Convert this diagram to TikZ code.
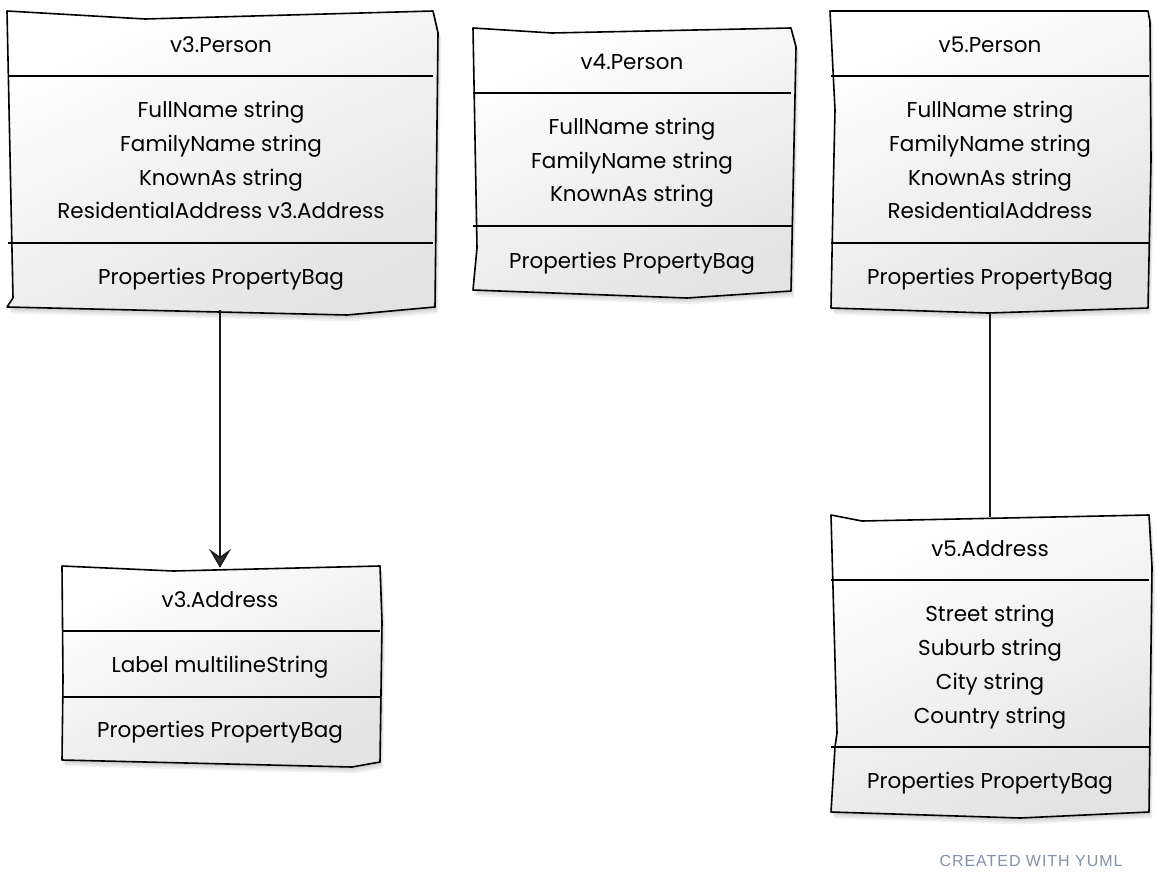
\documentclass[tikz,border=0pt]{standalone}
\usepackage{fontspec}
\setmainfont{Poppins}
\newfontfamily\credfont[LetterSpace=6]{Liberation Sans}
\usetikzlibrary{arrows.meta}
\definecolor{credc}{HTML}{8291A8}
\begin{document}
\begin{tikzpicture}[x=1pt,y=-1pt,
  outline/.style={draw=black,line width=1.6pt,line join=round,top color=white,bottom color=black!11,shading angle=25},
  shadowpath/.style={fill=black,opacity=0.05},
  sepline/.style={draw=black,line width=1.5pt},
  txt/.style={font=\fontsize{21.5}{21.5}\selectfont,anchor=mid,inner sep=0pt},
  area/.style={draw=none,inner sep=0pt,rectangle},
  conn/.style={line width=1.5pt,draw=black!90}
]
\useasboundingbox (0,0) rectangle (1157,891);
\def\boxA{(7,11) -- (145,19) -- (433,11) -- (438,33) -- (435,307) -- (347,315) -- (7,307) -- (13,298) -- cycle}
\def\boxB{(473,28) -- (552,33) -- (791,28) -- (796,47) -- (791,291) -- (687,298) -- (473,290) -- (477,248) -- cycle}
\def\boxC{(830,11) -- (1148,11) -- (1150,22) -- (1151,160) -- (1148,308) -- (988,313) -- (831,308) -- (833,200) -- (835,110) -- cycle}
\def\boxD{(62,566) -- (173,571) -- (380,566) -- (382,622) -- (380,762) -- (352,767) -- (62,760) -- (63,680) -- cycle}
\def\boxE{(831,515) -- (862,521) -- (1149,515) -- (1152,567) -- (1149,812) -- (1020,818) -- (831,812) -- (835,747) -- (837,733) -- cycle}
% shadows
\foreach \s in {1,2,3,4}{
  \fill[shadowpath,shift={(\s*0.8,\s*1.6)}] \boxA;
  \fill[shadowpath,shift={(\s*0.8,\s*1.6)}] \boxB;
  \fill[shadowpath,shift={(\s*0.8,\s*1.6)}] \boxC;
  \fill[shadowpath,shift={(\s*0.8,\s*1.6)}] \boxD;
  \fill[shadowpath,shift={(\s*0.8,\s*1.6)}] \boxE;
}
% outlines
\path[outline] \boxA;
\path[outline] \boxB;
\path[outline] \boxC;
\path[outline] \boxD;
\path[outline] \boxE;
% areas (for connectors)
\node[area,minimum width=420pt,minimum height=299pt] (v3p) at (220,160.5) {};
\node[area,minimum width=318pt,minimum height=265pt] (v4p) at (633,160.5) {};
\node[area,minimum width=318pt,minimum height=302pt] (v5p) at (990,162) {};
\node[area,minimum width=318pt,minimum height=196pt] (v3a) at (220,666) {};
\node[area,minimum width=318pt,minimum height=295pt] (v5a) at (990,664.5) {};
% separators
\draw[sepline] (8,76) -- (433,76);
\draw[sepline] (8,243) -- (433,243);
\draw[sepline] (473,93) -- (791,93);
\draw[sepline] (473,226) -- (793,226);
\draw[sepline] (831,76) -- (1149,76);
\draw[sepline] (831,243) -- (1149,243);
\draw[sepline] (62,631) -- (380,631);
\draw[sepline] (62,697) -- (380,697);
\draw[sepline] (831,580) -- (1149,580);
\draw[sepline] (831,747) -- (1149,747);
% texts v3.Person
\node[txt] (a0) at (221,50) {v3.Person};
\node[txt] (a1) at (221,115) {FullName string};
\node[txt] (a2) at (221,149) {FamilyName string};
\node[txt] (a3) at (221,183) {KnownAs string};
\node[txt] (a4) at (221,216) {ResidentialAddress v3.Address};
\node[txt] (a5) at (221,282) {Properties PropertyBag};
% v4.Person
\node[txt] (b0) at (632,67) {v4.Person};
\node[txt] (b1) at (632,132) {FullName string};
\node[txt] (b2) at (632,166) {FamilyName string};
\node[txt] (b3) at (632,199) {KnownAs string};
\node[txt] (b5) at (632,266) {Properties PropertyBag};
% v5.Person
\node[txt] (c0) at (990,50) {v5.Person};
\node[txt] (c1) at (990,115) {FullName string};
\node[txt] (c2) at (990,149) {FamilyName string};
\node[txt] (c3) at (990,183) {KnownAs string};
\node[txt] (c4) at (990,216) {ResidentialAddress};
\node[txt] (c5) at (990,282) {Properties PropertyBag};
% v3.Address
\node[txt] (d0) at (220,605) {v3.Address};
\node[txt] (d1) at (220,670) {Label multilineString};
\node[txt] (d5) at (220,735) {Properties PropertyBag};
% v5.Address
\node[txt] (e0) at (990,554) {v5.Address};
\node[txt] (e1) at (990,619) {Street string};
\node[txt] (e2) at (990,653) {Suburb string};
\node[txt] (e3) at (990,687) {City string};
\node[txt] (e4) at (990,721) {Country string};
\node[txt] (e5) at (990,786) {Properties PropertyBag};
% connectors
\draw[conn,-{Stealth[length=19pt,width=22pt,inset=8pt,fill=black!80]}] (v3p.south) -- (v3a.north);
\draw[conn] (v5p.south) -- (v5a.north);
% credit
\node[font=\credfont\fontsize{16}{16}\selectfont,text=credc,anchor=mid,inner sep=0pt] (credit) at (1031,864) {CREATED WITH YUML};
\end{tikzpicture}
\end{document}
